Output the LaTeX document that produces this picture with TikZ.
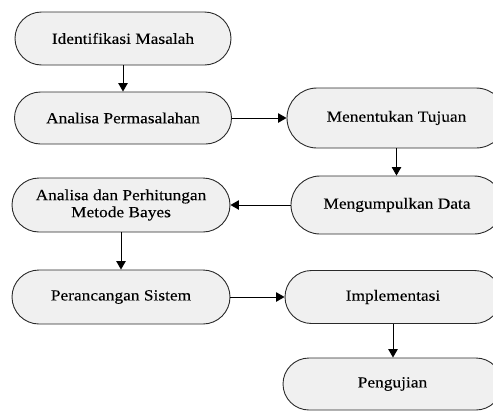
\documentclass[tikz,border=0pt]{standalone}
\usepackage{fontspec}
\setmainfont{Liberation Serif}[FakeStretch=1.12,FakeBold=0.15]
\usetikzlibrary{shapes.misc,arrows.meta}
\definecolor{boxfill}{HTML}{F0F0F0}
\definecolor{boxline}{HTML}{2A2A2A}
\tikzset{
  stepbox/.style={rounded rectangle, draw=boxline, fill=boxfill, line width=0.9pt,
    inner sep=0pt, align=center, font=\fontsize{15.5}{17}\selectfont},
  flow/.style={draw=black, line width=0.9pt, -{Triangle[length=8.5pt,width=9.5pt]}}
}
\begin{document}
\begin{tikzpicture}[x=1pt,y=-1pt]
\useasboundingbox (0,0) rectangle (493,410);
\clip (0,0) rectangle (493,410);
\node[stepbox, minimum width=216pt, minimum height=53pt] (n1) at (123,38.5) {Identifikasi Masalah};
\node[stepbox, minimum width=217pt, minimum height=52pt] (n2) at (123,118) {Analisa Permasalahan};
\node[stepbox, minimum width=219pt, minimum height=60pt] (n3) at (396.5,118) {Menentukan Tujuan};
\node[stepbox, minimum width=212pt, minimum height=58pt] (n4) at (397,205) {Mengumpulkan Data};
\node[stepbox, minimum width=218pt, minimum height=54pt] (n5) at (121,205) {Analisa dan Perhitungan\\Metode Bayes};
\node[stepbox, minimum width=218pt, minimum height=54pt] (n6) at (121,297) {Perancangan Sistem};
\node[stepbox, minimum width=216pt, minimum height=53pt] (n7) at (393,297) {Implementasi};
\node[stepbox, minimum width=219pt, minimum height=52pt] (n8) at (392.5,384) {Pengujian};
\draw[flow] (n1.south) -- (n1.south |- n2.north);
\draw[flow] (n2.east) -- (n3.west);
\draw[flow] (n3.south) -- (n3.south |- n4.north);
\draw[flow] (n4.west) -- (n5.east);
\draw[flow] (n5.south) -- (n5.south |- n6.north);
\draw[flow] (n6.east) -- (n7.west);
\draw[flow] (n7.south) -- (n7.south |- n8.north);
\end{tikzpicture}
\end{document}
